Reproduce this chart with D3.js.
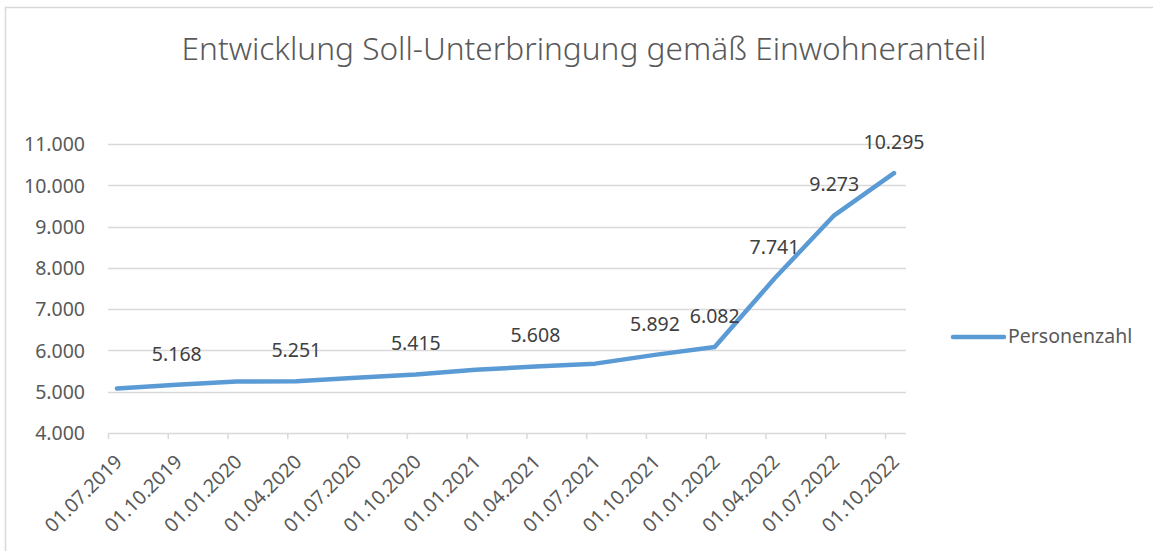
<!DOCTYPE html>
<html>
<head>
<meta charset="utf-8">
<script src="https://cdn.jsdelivr.net/npm/d3@7"></script>
<style>
  html, body { margin: 0; padding: 0; background: #ffffff; }
  svg { display: block; }
  text { font-family: "Noto Sans", "Open Sans", sans-serif; }
</style>
</head>
<body>
<svg id="chart" width="1153" height="551"></svg>
<script>
// ---- data ----
const title = "Entwicklung Soll-Unterbringung gemäß Einwohneranteil";
const seriesName = "Personenzahl";
const categories = ["01.07.2019","01.10.2019","01.01.2020","01.04.2020","01.07.2020","01.10.2020","01.01.2021","01.04.2021","01.07.2021","01.10.2021","01.01.2022","01.04.2022","01.07.2022","01.10.2022"];
const values = [5075, 5168, 5245, 5251, 5340, 5415, 5530, 5608, 5680, 5892, 6082, 7741, 9273, 10295];
const labelShown = [false, true, false, true, false, true, false, true, false, true, true, true, true, true];
const yTicks = [4000, 5000, 6000, 7000, 8000, 9000, 10000, 11000];

// ---- layout ----
const svg = d3.select("#chart");
const W = 1153, H = 551;
const plotLeft = 108, plotRight = 906, plotTop = 144, plotBottom = 433;
const gray = "#595959", gridCol = "#d9d9d9", lineCol = "#5B9BD5";

const de = d3.formatLocale({decimal: ",", thousands: ".", grouping: [3], currency: ["", " €"]});
const fmt = de.format(",");

const y = d3.scaleLinear().domain([4000, 11000]).range([plotBottom, plotTop]);
const xTick = d3.scalePoint().domain(categories).range([108, 885]);
const xLine = d3.scalePoint().domain(categories).range([117, 894]);

// chart frame
svg.append("rect").attr("x", 5.5).attr("y", 7.5).attr("width", W + 20).attr("height", H + 20)
  .attr("fill", "#fff").attr("stroke", gridCol).attr("stroke-width", 1.5);

// title
const t = svg.append("text").attr("x", 584).attr("y", 60).attr("text-anchor", "middle")
  .attr("fill", gray).attr("font-size", 31)
  .attr("font-family", "'Open Sans', 'Noto Sans', sans-serif").attr("font-weight", 300)
  .text(title);
const tl = t.node().getComputedTextLength();
if (tl > 0) t.attr("font-size", 31 * 805 / tl);

// gridlines
svg.append("g").selectAll("line").data(yTicks.filter(v => v > 4000)).join("line")
  .attr("x1", plotLeft).attr("x2", plotRight)
  .attr("y1", d => Math.round(y(d)) + 0.5).attr("y2", d => Math.round(y(d)) + 0.5)
  .attr("stroke", gridCol).attr("stroke-width", 1.3);

// y axis labels
const yAxis = d3.axisLeft(y).tickValues(yTicks).tickFormat(fmt).tickSize(0).tickPadding(0);
const gy = svg.append("g").attr("transform", "translate(85,0)").call(yAxis);
gy.select(".domain").remove();
gy.selectAll("text").attr("fill", gray).attr("font-size", 19.5)
  .attr("font-family", "'Noto Sans', sans-serif").attr("dy", "0.35em");

// x axis
const xAxis = d3.axisBottom(xTick).tickSize(6).tickSizeOuter(0);
const gx = svg.append("g").attr("transform", `translate(0,${plotBottom})`).call(xAxis);
gx.select(".domain").attr("stroke", gridCol).attr("stroke-width", 1.5)
  .attr("d", `M${plotLeft},0.5H${plotRight}`);
gx.selectAll(".tick line").attr("stroke", gridCol).attr("stroke-width", 1.5);
gx.selectAll(".tick text")
  .attr("fill", gray).attr("font-size", 19.5).attr("font-family", "'Noto Sans', sans-serif")
  .attr("text-anchor", "end").attr("y", 0).attr("dy", 0)
  .attr("transform", "translate(15,30) rotate(-45)");

// line
const line = d3.line().x((d, i) => xLine(categories[i])).y(d => y(d));
svg.append("path").datum(values).attr("d", line)
  .attr("fill", "none").attr("stroke", lineCol).attr("stroke-width", 4.5)
  .attr("stroke-linejoin", "round").attr("stroke-linecap", "round");

// data labels
svg.append("g").selectAll("text")
  .data(values.map((v, i) => ({v, i})).filter(d => labelShown[d.i])).join("text")
  .attr("x", d => xLine(categories[d.i]))
  .attr("y", d => y(d.v) - 31)
  .attr("dy", "0.35em")
  .attr("text-anchor", "middle").attr("fill", "#404040").attr("font-size", 19.5)
  .text(d => fmt(d.v));

// legend
const lg = svg.append("g");
lg.append("line").attr("x1", 953).attr("x2", 1004).attr("y1", 337).attr("y2", 337)
  .attr("stroke", lineCol).attr("stroke-width", 4.5).attr("stroke-linecap", "round");
lg.append("text").attr("x", 1008).attr("y", 336).attr("dy", "0.35em")
  .attr("fill", gray).attr("font-size", 19.5).text(seriesName);
</script>
</body>
</html>
